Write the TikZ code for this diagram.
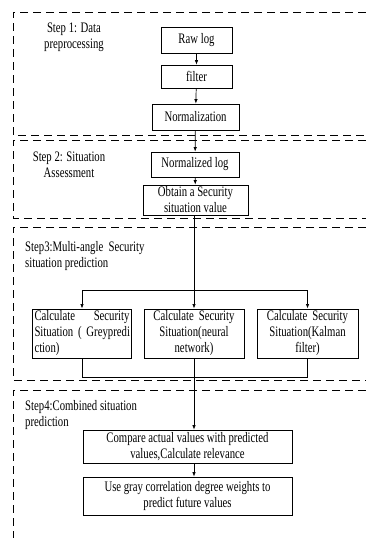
\documentclass[tikz,border=0pt]{standalone}
\usepackage{fontspec}
\setmainfont[FakeStretch=0.74]{Liberation Serif}
\usetikzlibrary{arrows.meta}
\tikzset{
	stepbox/.style={draw, line width=0.8pt, inner sep=2pt, align=center},
	frame/.style={line width=0.9pt, dash pattern=on 8pt off 5pt},
	flow/.style={line width=0.7pt, -{Latex[length=4.5pt,width=3.5pt]}},
	joint/.style={line width=0.7pt}
}
\begin{document}
\begin{tikzpicture}[x=1pt,y=-1pt,font=\fontsize{14.5}{16}\selectfont]
		\useasboundingbox (0,0) rectangle (366,538);
		
		% dashed step frames
		\draw[frame] (366,12) -- (13,12) -- (13,135) -- (366,135);
		\draw[frame] (366,140) -- (13,140) -- (13,218) -- (366,218);
		\draw[frame] (366,227) -- (13,227) -- (13,380) -- (366,380);
		\draw[frame] (366,390) -- (13,390) -- (13,538);
		
		\node[align=center] at (74,37) (s1) {Step 1: Data\\preprocessing};
		\node[align=center] at (69,165) (s2) {Step 2: Situation\\Assessment};
		\node[align=left, anchor=west, inner sep=0pt] at (25,256) (s3) {Step3:Multi-angle\ \ Security\\situation prediction};
		\node[align=left, anchor=west, inner sep=0pt] at (25,415) (s4) {Step4:Combined situation\\prediction};
		
		\node[stepbox, minimum width=71, minimum height=26] at (196.5,40) (raw) {Raw log};
		\node[stepbox, minimum width=71, minimum height=23] at (196.5,76.5) (filter) {filter};
		\node[stepbox, minimum width=87, minimum height=26] at (195.5,117) (norm) {Normalization};
		\node[stepbox, minimum width=88, minimum height=25] at (195,164.5) (normlog) {Normalized log};
		\node[stepbox, minimum width=105, minimum height=30, inner sep=1pt] at (195.5,200) (obtain) {Obtain a Security\\situation value};
		
		\node[stepbox, text width=95, minimum height=49, align=left, inner sep=2pt] at (82,333.5) (grey) {Calculate\hfill Security\\\mbox{Situation ( Greypredi}\\ction)};
		\node[stepbox, text width=96, minimum height=49] at (194,333.5) (neural) {Calculate Security\\Situation(neural\\network)};
		\node[stepbox, text width=97, minimum height=49] at (307.5,333.5) (kalman) {Calculate Security\\Situation(Kalman\\filter)};
		
		\node[stepbox, minimum width=209, minimum height=33] at (187.5,446.5) (compare) {Compare actual values with predicted\\values,Calculate relevance};
		\node[stepbox, minimum width=209, minimum height=38] at (187.5,496) (use) {Use gray correlation degree weights to\\predict future values};
		
		\coordinate (fork) at (194,290);
		
		\draw[flow] (raw) -- (filter);
		\draw[flow] (filter) -- (norm);
		\draw[flow] (norm) -- (normlog);
		\draw[flow] (normlog) -- (obtain);
		\draw[flow] (obtain.south -| neural.north) -- (neural.north);
		\draw[joint] (fork -| grey.north) -- (fork -| kalman.north);
		\draw[flow] (fork -| grey.north) -- (grey.north);
		\draw[flow] (fork -| kalman.north) -- (kalman.north);
		\draw[joint] (grey.south) -- ++(0,19) -| (kalman.south);
		\draw[flow] (neural.south) -- (compare.north -| neural.south);
		\draw[flow] (compare.south -| neural.south) -- (use.north -| neural.south);
\end{tikzpicture}
\end{document}
